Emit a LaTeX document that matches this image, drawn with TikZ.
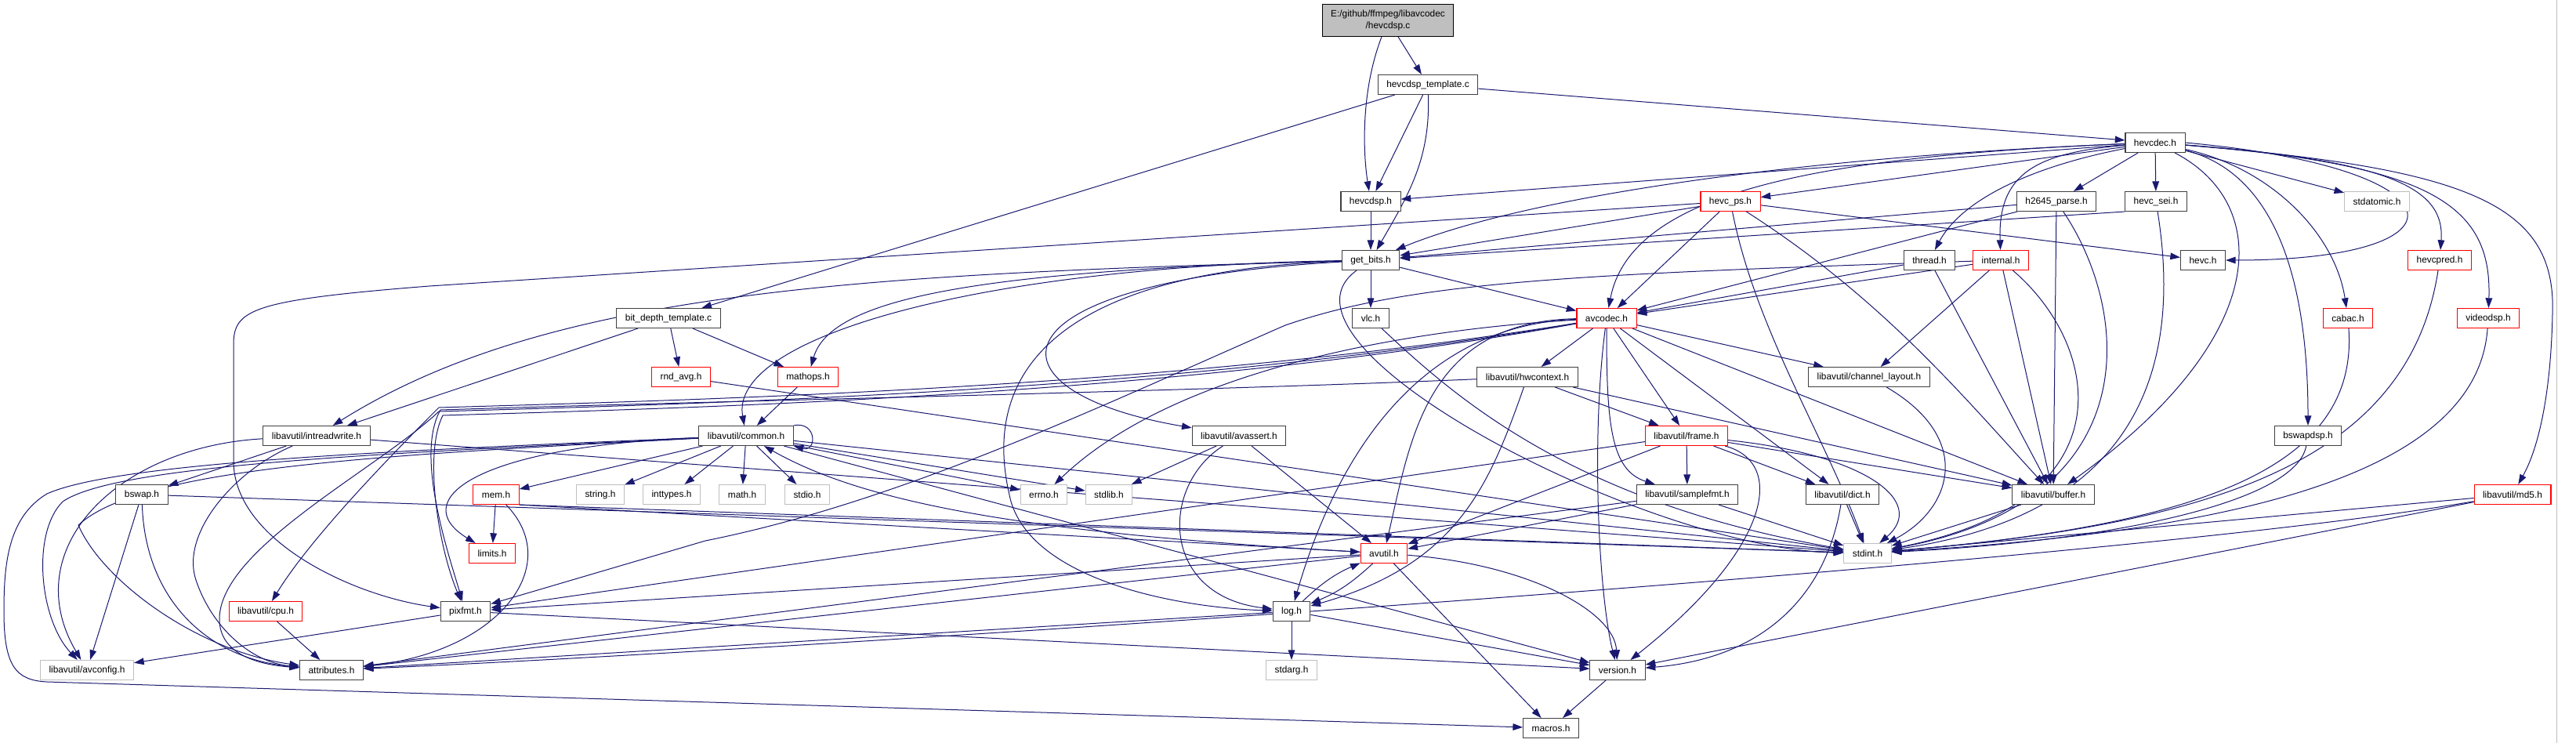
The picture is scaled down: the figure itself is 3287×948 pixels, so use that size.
\documentclass[tikz,border=0pt]{standalone}
\usepackage{fontspec}
\setmainfont{Liberation Sans}
\usepackage{xcolor}
\definecolor{edgeblue}{RGB}{25,25,112}
\definecolor{sysgray}{RGB}{191,191,191}
\definecolor{boxline}{RGB}{64,64,64}
\definecolor{trunc}{RGB}{255,0,0}
\usetikzlibrary{arrows.meta,backgrounds}

\begin{document}
\begin{tikzpicture}[x=0.75pt,y=-0.75pt,
  hdr/.style={draw=boxline,line width=0.8pt,fill=white,inner xsep=8.25pt,inner ysep=0pt,
    minimum height=18.75pt,font=\fontsize{8.9}{11.25}\selectfont},
  hdrred/.style={hdr,draw=trunc},
  hdrsys/.style={hdr,draw=sysgray},
  dep/.style={draw=edgeblue,line width=0.75pt,-{Triangle[length=9.5pt,width=6.5pt]}}]
  \useasboundingbox (0,0) rectangle (3287,948);

  % source file and its direct includes
  \node[hdr,fill=sysgray,draw=black,align=center,minimum height=30.75pt] (root) at (1771,26) {E:/github/ffmpeg/libavcodec\\/hevcdsp.c};
  \node[hdr] (tmpl) at (1822,108) {hevcdsp\_template.c};
  \node[hdr] (hevcdec) at (2750,182) {hevcdec.h};
  \node[hdr] (hevcdsph) at (1749,257) {hevcdsp.h};
  \node[hdrred] (hevcps) at (2208,257) {hevc\_ps.h};
  \node[hdr] (h2645) at (2624,257) {h2645\_parse.h};
  \node[hdr] (hevcsei) at (2751,257) {hevc\_sei.h};
  \node[hdrsys] (stdatomic) at (3033,257) {stdatomic.h};
  \node[hdr] (getbits) at (1749,332) {get\_bits.h};
  \node[hdr] (thread) at (2462,332) {thread.h};
  \node[hdrred] (internal) at (2553,332) {internal.h};
  \node[hdr] (hevc) at (2811,332) {hevc.h};
  \node[hdrred] (hevcpred) at (3113,332) {hevcpred.h};
  \node[hdr] (bitdepth) at (853,406) {bit\_depth\_template.c};
  \node[hdr] (vlc) at (1749,406) {vlc.h};
  \node[hdrred] (avcodec) at (2050,406) {avcodec.h};
  \node[hdrred] (cabac) at (2996,406) {cabac.h};
  \node[hdrred] (videodsp) at (3175,406) {videodsp.h};
  \node[hdrred] (rndavg) at (869,481) {rnd\_avg.h};
  \node[hdrred] (mathops) at (1031,481) {mathops.h};
  \node[hdr] (hwcontext) at (1949,481) {libavutil/hwcontext.h};
  \node[hdr] (chlayout) at (2385,481) {libavutil/channel\_layout.h};
  % libavutil and system headers
  \node[hdr] (intreadwrite) at (404,556) {libavutil/intreadwrite.h};
  \node[hdr] (common) at (952,556) {libavutil/common.h};
  \node[hdr] (avassert) at (1581,556) {libavutil/avassert.h};
  \node[hdrred] (frame) at (2152,556) {libavutil/frame.h};
  \node[hdr] (bswapdsp) at (2945,556) {bswapdsp.h};
  \node[hdr] (bswap) at (181,631) {bswap.h};
  \node[hdrred] (mem) at (633,631) {mem.h};
  \node[hdrsys] (string) at (766,631) {string.h};
  \node[hdrsys] (inttypes) at (857,631) {inttypes.h};
  \node[hdrsys] (math) at (947,631) {math.h};
  \node[hdrsys] (stdio) at (1030,631) {stdio.h};
  \node[hdrsys] (errno) at (1332,631) {errno.h};
  \node[hdrsys] (stdlib) at (1415,631) {stdlib.h};
  \node[hdr] (samplefmt) at (2153,631) {libavutil/samplefmt.h};
  \node[hdr] (dict) at (2351,631) {libavutil/dict.h};
  \node[hdr] (buffer) at (2620,631) {libavutil/buffer.h};
  \node[hdrred] (md5) at (3206,631) {libavutil/md5.h};
  \node[hdrred] (limits) at (628,706) {limits.h};
  \node[hdrred] (avutil) at (1766,706) {avutil.h};
  \node[hdrsys] (stdint) at (2383,706) {stdint.h};
  \node[hdrred] (cpu) at (339,780) {libavutil/cpu.h};
  \node[hdr] (pixfmt) at (594,780) {pixfmt.h};
  \node[hdr] (log) at (1648,780) {log.h};
  \node[hdrsys] (avconfig) at (111,855) {libavutil/avconfig.h};
  \node[hdr] (attributes) at (423,855) {attributes.h};
  \node[hdrsys] (stdarg) at (1648,855) {stdarg.h};
  \node[hdr] (version) at (2064,855) {version.h};
  \node[hdr] (macros) at (1979,929) {macros.h};

  \begin{scope}[on background layer]
  \fill[white] (0,0) rectangle (3287,948);
  \draw[sysgray,line width=0.75pt] (3262,0) -- (3262,948);

  % hevcdsp.c, template
  \draw[dep] (root) .. controls (1735,120) and (1740,200) .. (hevcdsph);
  \draw[dep] (root) -- (tmpl);
  \draw[dep] (tmpl) -- (hevcdsph);
  \draw[dep] (tmpl) to[out=-88,in=60] (getbits);
  \draw[dep] (tmpl) -- (bitdepth);
  \draw[dep] (tmpl) -- (hevcdec);
  \draw[dep] (hevcdsph) -- (getbits);

  % hevcdec.h
  \draw[dep] (hevcdec) -- (hevcdsph);
  \draw[dep] (hevcdec) .. controls (2300,200) and (1950,250) .. (getbits);
  \draw[dep] (hevcdec) -- (hevcps);
  \draw[dep] (hevcdec) -- (h2645);
  \draw[dep] (hevcdec) -- (hevcsei);
  \draw[dep] (hevcdec) -- (stdatomic);
  \draw[dep] (hevcdec.east) .. controls (3150,215) and (3160,332) .. (hevc.east);
  \draw[dep] (hevcdec) .. controls (3050,205) and (3120,240) .. (hevcpred);
  \draw[dep] (hevcdec) .. controls (3100,210) and (3180,260) .. (videodsp);
  \draw[dep] (hevcdec) .. controls (2900,215) and (2980,300) .. (cabac);
  \draw[dep] (hevcdec) .. controls (2900,220) and (2945,350) .. (bswapdsp);
  \draw[dep] (hevcdec) .. controls (3150,215) and (3262,260) .. (3257,400) .. controls (3255,500) and (3240,570) .. (md5);
  \draw[dep] (hevcdec) .. controls (2580,215) and (2500,260) .. (thread);
  \draw[dep] (hevcdec) .. controls (2600,195) and (2549,220) .. (internal);
  \draw[dep] (hevcdec) .. controls (2300,200) and (2080,250) .. (avcodec);
  \draw[dep] (hevcdec) .. controls (2900,260) and (2900,430) .. (buffer);

  % hevc_ps.h, h2645_parse.h, hevc_sei.h, thread.h, internal.h
  \draw[dep] (hevcps) -- (getbits);
  \draw[dep] (hevcps) -- (avcodec);
  \draw[dep] (hevcps) -- (hevc);
  \draw[dep] (hevcps) .. controls (2400,380) and (2500,500) .. (buffer);
  \draw[dep] (hevcps) .. controls (2240,420) and (2330,560) .. (stdint);
  \draw[dep] (hevcps) -- (548,365) .. controls (320,383) and (298,395) .. (298,440) -- (298,590) .. controls (300,690) and (450,760) .. (pixfmt);
  \draw[dep] (h2645) -- (getbits);
  \draw[dep] (h2645) -- (avcodec);
  \draw[dep] (h2645) -- (buffer);
  \draw[dep] (h2645) .. controls (2720,400) and (2740,640) .. (stdint);
  \draw[dep] (hevcsei.south west) -- (getbits);
  \draw[dep] (hevcsei) .. controls (2790,500) and (2700,660) .. (stdint);
  \draw[dep] (thread) -- (avcodec);
  \draw[dep] (thread) -- (buffer);
  \draw[dep] (internal) -- (avcodec);
  \draw[dep] (internal) -- (chlayout);
  \draw[dep] (internal) -- (buffer);
  \draw[dep] (internal) .. controls (2680,440) and (2720,640) .. (stdint);
  \draw[dep] (internal) .. controls (2000,350) and (1800,360) .. (1640,415) .. controls (1400,520) and (1150,640) .. (900,690) -- (pixfmt);

  % right column
  \draw[dep] (hevcpred) .. controls (3072,600) and (2800,670) .. (stdint);
  \draw[dep] (cabac) .. controls (3010,600) and (2800,670) .. (stdint);
  \draw[dep] (videodsp) .. controls (3160,620) and (2800,680) .. (stdint);
  \draw[dep] (bswapdsp) .. controls (2930,640) and (2700,690) .. (stdint);
  \draw[dep] (md5) -- (stdint);
  \draw[dep] (md5) .. controls (2700,720) and (1000,830) .. (attributes);
  \draw[dep] (md5) -- (version);

  % get_bits.h
  \draw[dep] (getbits) .. controls (1100,350) and (700,370) .. (intreadwrite);
  \draw[dep] (getbits) .. controls (1250,340) and (930,430) .. (common);
  \draw[dep] (getbits) .. controls (1250,345) and (1060,380) .. (mathops);
  \draw[dep] (getbits) .. controls (1250,360) and (1250,500) .. (avassert);
  \draw[dep] (getbits) .. controls (1240,350) and (1270,560) .. (1290,640) .. controls (1320,740) and (1500,775) .. (log);
  \draw[dep] (getbits) -- (vlc);
  \draw[dep] (getbits) -- (avcodec);
  \draw[dep] (getbits) .. controls (1600,440) and (2100,700) .. (stdint);
  \draw[dep] (vlc) .. controls (1850,500) and (2000,640) .. (stdint);
  \draw[dep] (bitdepth) -- (intreadwrite);
  \draw[dep] (bitdepth) -- (rndavg);
  \draw[dep] (bitdepth) -- (mathops);
  \draw[dep] (rndavg) -- (stdint);
  \draw[dep] (mathops) -- (common);

  % avcodec.h
  \draw[dep] (avcodec) .. controls (1800,420) and (1500,470) .. (errno);
  \draw[dep] (avcodec) .. controls (2050,540) and (2055,600) .. (samplefmt);
  \draw[dep] (avcodec) .. controls (1500,500) and (900,515) .. (560,525) .. controls (480,600) and (280,700) .. (280,790) .. controls (280,835) and (330,848) .. (attributes);
  \draw[dep] (avcodec) .. controls (1500,495) and (900,510) .. (560,520) .. controls (520,560) and (400,680) .. (cpu);
  \draw[dep] (avcodec) .. controls (1820,410) and (1800,560) .. (avutil);
  \draw[dep] (avcodec) .. controls (1800,415) and (1700,600) .. (log);
  \draw[dep] (avcodec) .. controls (1500,505) and (900,520) .. (565,530) .. controls (540,580) and (560,700) .. (pixfmt);
  \draw[dep] (avcodec) -- (buffer);
  \draw[dep] (avcodec) -- (chlayout);
  \draw[dep] (avcodec) -- (dict);
  \draw[dep] (avcodec) -- (frame);
  \draw[dep] (avcodec) -- (hwcontext);
  \draw[dep] (avcodec) .. controls (2030,560) and (2040,760) .. (version);

  % libavutil
  \draw[dep] (hwcontext) -- (buffer);
  \draw[dep] (hwcontext) -- (frame);
  \draw[dep] (hwcontext) .. controls (1900,620) and (1860,720) .. (log);
  \draw[dep] (hwcontext) .. controls (1500,500) and (900,512) .. (562,523) .. controls (530,580) and (570,700) .. (pixfmt);
  \draw[dep] (chlayout) .. controls (2520,560) and (2490,650) .. (stdint);
  \draw[dep] (intreadwrite) .. controls (150,570) and (20,700) .. (avconfig);
  \draw[dep] (intreadwrite) .. controls (300,600) and (230,680) .. (250,740) .. controls (270,800) and (320,845) .. (attributes);
  \draw[dep] (intreadwrite) -- (bswap);
  \draw[dep] (intreadwrite) -- (stdint);
  \draw[dep] (bswap) -- (avconfig);
  \draw[dep] (bswap) .. controls (185,760) and (260,840) .. (attributes);
  \draw[dep] (bswap) -- (stdint);
  \draw[dep] (common) -- (string);
  \draw[dep] (common) -- (inttypes);
  \draw[dep] (common) -- (math);
  \draw[dep] (common) -- (stdio);
  \draw[dep] (common) -- (mem);
  \draw[dep] (common) -- (errno);
  \draw[dep] (common) -- (stdlib);
  \draw[dep] (common) .. controls (600,570) and (520,640) .. (limits);
  \draw[dep] (common) -- (stdint);
  \draw[dep] (common) -- (version);
  \draw[dep] (common) .. controls (500,578) and (150,592) .. (80,640) .. controls (40,680) and (50,790) .. (avconfig);
  \draw[dep] (common) .. controls (500,580) and (180,595) .. (100,670) .. controls (130,740) and (250,830) .. (attributes);
  \draw[dep] (common) .. controls (500,575) and (150,590) .. (60,630) .. controls (10,660) and (5,720) .. (5,780) .. controls (5,850) and (20,868) .. (60,870) -- (macros);
  \draw[dep] (common.north east) .. controls +(30,-6) and +(30,8) .. (common.south east);
  \draw[dep] (avassert) -- (stdlib);
  \draw[dep] (avassert) -- (avutil);
  \draw[dep] (avassert) .. controls (1480,620) and (1480,760) .. (log);
  \draw[dep] (frame) -- (avutil);
  \draw[dep] (frame) -- (buffer);
  \draw[dep] (frame) -- (dict);
  \draw[dep] (frame) -- (samplefmt);
  \draw[dep] (frame) -- (pixfmt);
  \draw[dep] (frame) .. controls (2280,590) and (2260,700) .. (version);
  \draw[dep] (frame) .. controls (2380,580) and (2460,640) .. (stdint);
  \draw[dep] (samplefmt) -- (stdint);
  \draw[dep] (samplefmt) -- (avutil);
  \draw[dep] (samplefmt) -- (attributes);
  \draw[dep] (dict) -- (stdint);
  \draw[dep] (dict) .. controls (2330,760) and (2250,840) .. (version);
  \draw[dep] (buffer) -- (stdint);
  \draw[dep] (mem) -- (limits);
  \draw[dep] (mem.south east) -- (stdint);
  \draw[dep] (mem) .. controls (720,720) and (640,830) .. (attributes);
  \draw[dep] (mem.south east) -- (avutil);
  \draw[dep] (avutil) .. controls (1300,680) and (1100,640) .. (common);
  \draw[dep] (avutil) -- (attributes);
  \draw[dep] (avutil) -- (macros);
  \draw[dep] (avutil) .. controls (1950,720) and (2060,780) .. (version);
  \draw[dep] (avutil) to[bend left=10] (log);
  \draw[dep] (avutil) -- (pixfmt);
  \draw[dep] (log) to[bend left=10] (avutil);
  \draw[dep] (log) -- (stdarg);
  \draw[dep] (log) -- (attributes);
  \draw[dep] (log) -- (version);
  \draw[dep] (cpu) -- (attributes);
  \draw[dep] (pixfmt) -- (avconfig);
  \draw[dep] (pixfmt) -- (version);
  \draw[dep] (version) -- (macros);
  \end{scope}
\end{tikzpicture}
\end{document}
